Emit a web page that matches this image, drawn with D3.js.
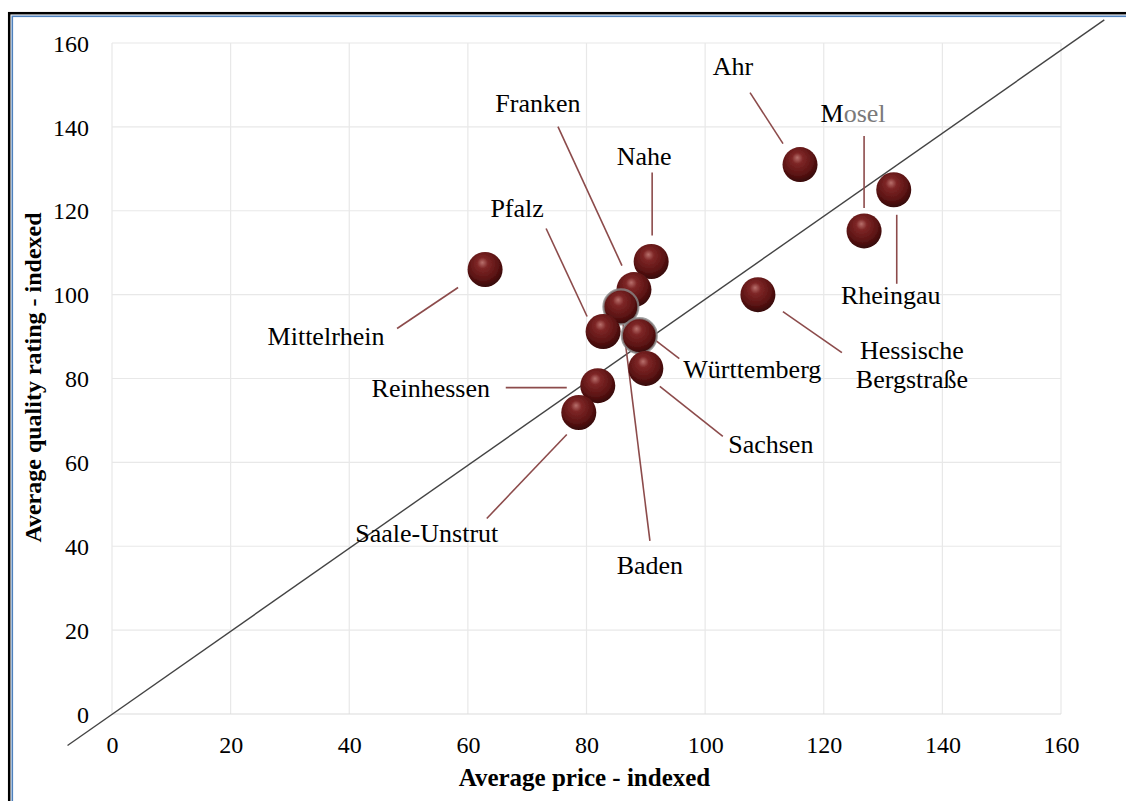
<!DOCTYPE html>
<html>
<head>
<meta charset="utf-8">
<script src="https://cdn.jsdelivr.net/npm/d3@7"></script>
<style>
  body { margin: 0; background: #fff; }
  svg { display: block; }
  text { font-family: "Liberation Serif", "Times New Roman", serif; fill: #000; }
</style>
</head>
<body>
<div id="chart"></div>
<script>
// wine regions, indexed price vs indexed quality
var regions = ["Ahr", "Mosel", "Rheingau", "Hessische Bergstraße", "Mittelrhein", "Nahe",
  "Franken", "Baden", "Pfalz", "Württemberg", "Sachsen", "Reinhessen", "Saale-Unstrut"];
var price   = [116.0, 126.8, 131.8, 108.9, 62.9, 90.9, 88.0, 85.8, 82.8, 88.9, 90.0, 81.9, 78.7];
var quality = [131.0, 115.2, 125.0, 100.0, 106.0, 107.9, 101.2, 97.1, 91.2, 90.2, 82.4, 78.3, 71.9];
var xTicks = [0, 20, 40, 60, 80, 100, 120, 140, 160];
var yTicks = [0, 20, 40, 60, 80, 100, 120, 140, 160];
// reference line (price = quality)
var refLine = [[-7.5, -7.5], [167.3, 165.5]];

// label placement, pixel offsets from the bubble centre
var layout = {
  "Ahr":                  { dx: -67,  dy: -90,  line: [-50, -72, -17, -21] },
  "Mosel":                { dx: -11,  dy: -109, line: [0, -95, 0, -23] },
  "Rheingau":             { dx: -3,   dy: 114,  line: [3, 25, 3, 94] },
  "Hessische Bergstraße": { dx: 154,  dy: 64,   line: [25, 17, 84, 58] },
  "Mittelrhein":          { dx: -159, dy: 76,   line: [-88, 59, -27, 18] },
  "Nahe":                 { dx: -7,   dy: -96,  line: [1, -89, 1, -26] },
  "Franken":              { dx: -96,  dy: -178, line: [-76, -163, -12, -24] },
  "Baden":                { dx: 29,   dy: 267,  line: [29, 234, 2, 16] },
  "Pfalz":                { dx: -86,  dy: -115, line: [-57, -103, -16, -15] },
  "Württemberg":          { dx: 113,  dy: 42,   line: [40, 23, 14, 3] },
  "Sachsen":              { dx: 125,  dy: 85,   line: [77, 68, 14, 18] },
  "Reinhessen":           { dx: -167, dy: 11,   line: [-92, 2, -31, 2] },
  "Saale-Unstrut":        { dx: -152, dy: 130,  line: [-92, 106, -12, 22] }
};
var highlighted = ["Baden", "Württemberg"];

var svgWidth = 1126;
var svgHeight = 801;
var margin = { top: 43, right: 65, bottom: 87, left: 112 };
var width = svgWidth - margin.left - margin.right;
var height = svgHeight - margin.top - margin.bottom;

var data = regions.map(function(r, i) {
  return { region: r, price: price[i], quality: quality[i] };
});

var svg = d3.select("#chart").append("svg")
  .attr("width", svgWidth)
  .attr("height", svgHeight);

var defs = svg.append("defs");
var grad = defs.append("radialGradient")
  .attr("id", "ball")
  .attr("cx", "0.45").attr("cy", "0.38").attr("r", "0.62")
  .attr("fx", "0.42").attr("fy", "0.3");
grad.append("stop").attr("offset", "0").attr("stop-color", "#b8706c");
grad.append("stop").attr("offset", "0.25").attr("stop-color", "#7e2626");
grad.append("stop").attr("offset", "0.7").attr("stop-color", "#5c1414");
grad.append("stop").attr("offset", "1").attr("stop-color", "#340606");

var blur = defs.append("filter").attr("id", "soft")
  .attr("x", "-30%").attr("y", "-30%").attr("width", "160%").attr("height", "160%");
blur.append("feGaussianBlur").attr("stdDeviation", 0.6);

// frame
svg.append("rect")
  .attr("x", 9.2).attr("y", 13.2)
  .attr("width", svgWidth).attr("height", svgHeight)
  .attr("fill", "none").attr("stroke", "#000").attr("stroke-width", 2.5);
svg.append("rect")
  .attr("x", 12.3).attr("y", 16.3)
  .attr("width", svgWidth).attr("height", svgHeight)
  .attr("fill", "none").attr("stroke", "#4f81bd").attr("stroke-width", 1.6);

var chartGroup = svg.append("g")
  .attr("transform", `translate(${margin.left}, ${margin.top})`);

var xLinearScale = d3.scaleLinear().domain([0, 160]).range([0, width]);
var yLinearScale = d3.scaleLinear().domain([0, 160]).range([height, 0]);

// gridlines
chartGroup.append("g")
  .selectAll("line.vgrid")
  .data(xTicks)
  .enter()
  .append("line")
  .attr("x1", d => xLinearScale(d))
  .attr("x2", d => xLinearScale(d))
  .attr("y1", 0)
  .attr("y2", height)
  .attr("stroke", "#e8e8e8")
  .attr("stroke-width", 1.2);

chartGroup.append("g")
  .selectAll("line.hgrid")
  .data(yTicks)
  .enter()
  .append("line")
  .attr("x1", 0)
  .attr("x2", width)
  .attr("y1", d => yLinearScale(d))
  .attr("y2", d => yLinearScale(d))
  .attr("stroke", d => d === 0 ? "#dcdcdc" : "#e8e8e8")
  .attr("stroke-width", 1.2);

// tick labels
var bottomAxis = d3.axisBottom(xLinearScale).tickValues(xTicks).tickSize(0).tickPadding(22);
var leftAxis = d3.axisLeft(yLinearScale).tickValues(yTicks).tickSize(0).tickPadding(23);

var xAxis = chartGroup.append("g")
  .attr("transform", `translate(0, ${height})`)
  .call(bottomAxis);
var yAxis = chartGroup.append("g")
  .call(leftAxis);

[xAxis, yAxis].forEach(function(ax) {
  ax.select(".domain").remove();
  ax.selectAll("text")
    .attr("font-family", "Liberation Serif, Times New Roman, serif")
    .attr("font-size", 24)
    .attr("fill", "#111");
});
yAxis.selectAll("text").attr("dy", "0.34em");

// reference line
var line = d3.line()
  .x(d => xLinearScale(d[0]))
  .y(d => yLinearScale(d[1]));

chartGroup.append("path")
  .datum(refLine)
  .attr("d", line)
  .attr("fill", "none")
  .attr("stroke", "#444")
  .attr("stroke-width", 1.4);

// leader lines
chartGroup.append("g")
  .selectAll("line.leader")
  .data(data)
  .enter()
  .append("line")
  .attr("x1", d => xLinearScale(d.price) + layout[d.region].line[0])
  .attr("y1", d => yLinearScale(d.quality) + layout[d.region].line[1])
  .attr("x2", d => xLinearScale(d.price) + layout[d.region].line[2])
  .attr("y2", d => yLinearScale(d.quality) + layout[d.region].line[3])
  .attr("stroke", "#8c4b4b")
  .attr("stroke-width", 1.6);

// bubbles
var circlesGroup = chartGroup.append("g")
  .selectAll("circle")
  .data(data)
  .enter()
  .append("circle")
  .attr("cx", d => xLinearScale(d.price))
  .attr("cy", d => yLinearScale(d.quality))
  .attr("r", 17.5)
  .attr("fill", "url(#ball)")
  .attr("stroke", d => highlighted.indexOf(d.region) >= 0 ? "#8a8a8a" : "none")
  .attr("stroke-width", 2.2)
  .attr("stroke-opacity", 0.8)
  .attr("filter", "url(#soft)");

// region labels
var labelsGroup = chartGroup.append("g");
data.forEach(function(d) {
  var pos = layout[d.region];
  var t = labelsGroup.append("text")
    .attr("x", xLinearScale(d.price) + pos.dx)
    .attr("y", yLinearScale(d.quality) + pos.dy)
    .attr("text-anchor", "middle")
    .attr("font-size", 26);
  if (d.region === "Hessische Bergstraße") {
    t.append("tspan").text("Hessische");
    t.append("tspan")
      .attr("x", xLinearScale(d.price) + pos.dx)
      .attr("dy", 29)
      .text("Bergstraße");
  } else if (d.region === "Mosel") {
    t.append("tspan").text("M");
    t.append("tspan").attr("fill", "#7a7a7a").text("osel");
  } else {
    t.text(d.region);
  }
});

// axis titles
chartGroup.append("text")
  .attr("x", width / 2 - 2)
  .attr("y", height + 72)
  .attr("text-anchor", "middle")
  .attr("font-size", 25)
  .attr("font-weight", "bold")
  .text("Average price - indexed");

chartGroup.append("text")
  .attr("transform", "rotate(-90)")
  .attr("x", 0 - (height / 2) + 1)
  .attr("y", -71)
  .attr("text-anchor", "middle")
  .attr("font-size", 24)
  .attr("font-weight", "bold")
  .text("Average quality rating - indexed");
</script>
</body>
</html>
